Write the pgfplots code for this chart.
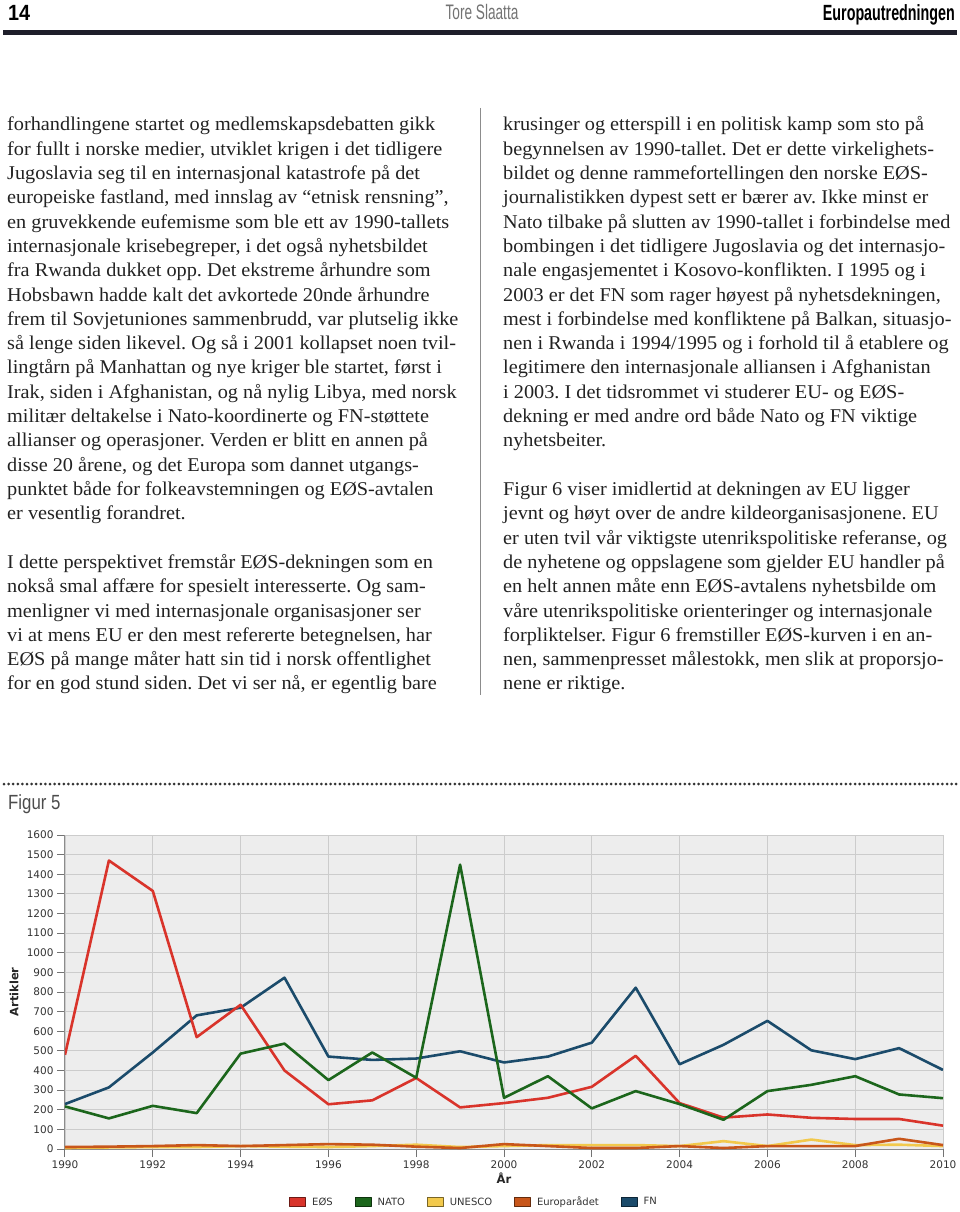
\documentclass[border=0pt]{standalone}
\usepackage{pgfplots}
\pgfplotsset{compat=1.18}
\usepackage{fontspec}
\setmainfont{Liberation Serif}[FakeStretch=1.04]
\newfontfamily\condsans{Liberation Sans}[FakeStretch=0.65]
\newfontfamily\numsans{Liberation Sans}[FakeStretch=0.9]
\newfontfamily\figfont{Liberation Sans}[FakeStretch=0.82]
\newfontfamily\chartfont{DejaVu Sans}
\definecolor{eoscol}{HTML}{D9342B}
\definecolor{natocol}{HTML}{1C661C}
\definecolor{unescocol}{HTML}{F2C94C}
\definecolor{eurocol}{HTML}{C8561A}
\definecolor{fncol}{HTML}{1B4B6B}
\definecolor{bodytext}{HTML}{222222}
\definecolor{rulecol}{HTML}{1E1E2A}
\begin{document}
\frenchspacing
\begin{tikzpicture}
\useasboundingbox (0,0) rectangle (960pt,-1212pt);
% header
\node[anchor=base west, inner sep=0] at (8pt,-21pt) {\numsans\bfseries\fontsize{22}{24}\selectfont 14};
\node[anchor=base, inner sep=0, text=black!55] at (482pt,-20pt) {\condsans\fontsize{21}{24}\selectfont Tore Slaatta};
\node[anchor=base east, inner sep=0] at (955pt,-21pt) {\condsans\bfseries\fontsize{22}{24}\selectfont Europautredningen};
\fill[rulecol] (3pt,-30pt) rectangle (957pt,-35pt);
% column rule
\draw[black!45, line width=1pt] (480pt,-108pt) -- (480pt,-695pt);
% left column
\node[anchor=base west, inner sep=0, text=bodytext] at (7pt,-131pt) {\parbox[t]{520pt}{\fontsize{19.5}{24.3}\selectfont\raggedright\frenchspacing
forhandlingene startet og medlemskapsdebatten gikk\\
for fullt i norske medier, utviklet krigen i det tidligere\\
Jugoslavia seg til en internasjonal katastrofe på det\\
europeiske fastland, med innslag av “etnisk rensning”,\\
en gruvekkende eufemisme som ble ett av 1990-tallets\\
internasjonale krisebegreper, i det også nyhetsbildet\\
fra Rwanda dukket opp. Det ekstreme århundre som\\
Hobsbawn hadde kalt det avkortede 20nde århundre\\
frem til Sovjetuniones sammenbrudd, var plutselig ikke\\
så lenge siden likevel. Og så i 2001 kollapset noen tvil-\\
lingtårn på Manhattan og nye kriger ble startet, først i\\
Irak, siden i Afghanistan, og nå nylig Libya, med norsk\\
militær deltakelse i Nato-koordinerte og FN-støttete\\
allianser og operasjoner. Verden er blitt en annen på\\
disse 20 årene, og det Europa som dannet utgangs-\\
punktet både for folkeavstemningen og EØS-avtalen\\
er vesentlig forandret.\\[24.3pt]
I dette perspektivet fremstår EØS-dekningen som en\\
nokså smal affære for spesielt interesserte. Og sam-\\
menligner vi med internasjonale organisasjoner ser\\
vi at mens EU er den mest refererte betegnelsen, har\\
EØS på mange måter hatt sin tid i norsk offentlighet\\
for en god stund siden. Det vi ser nå, er egentlig bare}};
% right column
\node[anchor=base west, inner sep=0, text=bodytext] at (503pt,-131pt) {\parbox[t]{520pt}{\fontsize{19.5}{24.3}\selectfont\raggedright\frenchspacing
krusinger og etterspill i en politisk kamp som sto på\\
begynnelsen av 1990-tallet. Det er dette virkelighets-\\
bildet og denne rammefortellingen den norske EØS-\\
journalistikken dypest sett er bærer av. Ikke minst er\\
Nato tilbake på slutten av 1990-tallet i forbindelse med\\
bombingen i det tidligere Jugoslavia og det internasjo-\\
nale engasjementet i Kosovo-konflikten. I 1995 og i\\
2003 er det FN som rager høyest på nyhetsdekningen,\\
mest i forbindelse med konfliktene på Balkan, situasjo-\\
nen i Rwanda i 1994/1995 og i forhold til å etablere og\\
legitimere den internasjonale alliansen i Afghanistan\\
i 2003. I det tidsrommet vi studerer EU- og EØS-\\
dekning er med andre ord både Nato og FN viktige\\
nyhetsbeiter.\\[24.3pt]
Figur 6 viser imidlertid at dekningen av EU ligger\\
jevnt og høyt over de andre kildeorganisasjonene. EU\\
er uten tvil vår viktigste utenrikspolitiske referanse, og\\
de nyhetene og oppslagene som gjelder EU handler på\\
en helt annen måte enn EØS-avtalens nyhetsbilde om\\
våre utenrikspolitiske orienteringer og internasjonale\\
forpliktelser. Figur 6 fremstiller EØS-kurven i en an-\\
nen, sammenpresset målestokk, men slik at proporsjo-\\
nene er riktige.}};
% dotted separator and figure caption
\draw[black!80, line width=3pt, line cap=round, dash pattern=on 0pt off 4.6pt] (4pt,-784pt) -- (957pt,-784pt);
\node[anchor=base west, inner sep=0, text=black!70] at (8pt,-809pt) {\figfont\fontsize{20.5}{22}\selectfont Figur 5};
% chart
\begin{axis}[
  at={(65pt,-1149pt)}, anchor=south west,
  scale only axis, width=878pt, height=314pt,
  xmin=1990, xmax=2010, ymin=0, ymax=1600,
  xtick={1990,1992,...,2010}, ytick={0,100,...,1600},
  axis background/.style={fill=black!7},
  grid=major, major grid style={draw=black!20, line width=0.8pt},
  axis x line*=bottom, axis y line*=left,
  axis line style={draw=black!45, line width=1pt},
  tick align=outside, major tick length=8pt,
  tick style={draw=black!55, line width=1pt},
  tick label style={font={\chartfont\fontsize{10.5}{12}\selectfont}, text=black!80},
  /pgf/number format/assume math mode=true,
  /pgf/number format/1000 sep={},
  xlabel={År}, ylabel={Artikler},
  label style={font={\chartfont\bfseries\fontsize{11.5}{13}\selectfont}, text=black!85},
  xlabel style={at={(axis description cs:0.5,0)}, anchor=center, yshift=-29pt},
  ylabel style={at={(axis description cs:0,0.5)}, anchor=center, yshift=51pt},
  legend columns=5,
  legend style={at={(axis description cs:0.466,-0.169)}, anchor=center, draw=none, fill=none,
    font={\chartfont\fontsize{10}{12}\selectfont}, text=black!80,
    /tikz/every odd column/.append style={column sep=4pt},
    /tikz/every even column/.append style={column sep=20pt}},
  legend cell align=left,
  every axis plot/.append style={line width=2.6pt, line join=round, no markers},
]
\addlegendimage{legend image code/.code={\draw[fill=eoscol, draw=eoscol!50!black, line width=0.8pt] (0pt,-4.5pt) rectangle (16pt,4.5pt);}}
\addlegendentry{EØS}
\addlegendimage{legend image code/.code={\draw[fill=natocol, draw=natocol!50!black, line width=0.8pt] (0pt,-4.5pt) rectangle (16pt,4.5pt);}}
\addlegendentry{NATO}
\addlegendimage{legend image code/.code={\draw[fill=unescocol, draw=unescocol!50!black, line width=0.8pt] (0pt,-4.5pt) rectangle (16pt,4.5pt);}}
\addlegendentry{UNESCO}
\addlegendimage{legend image code/.code={\draw[fill=eurocol, draw=eurocol!50!black, line width=0.8pt] (0pt,-4.5pt) rectangle (16pt,4.5pt);}}
\addlegendentry{Europarådet}
\addlegendimage{legend image code/.code={\draw[fill=fncol, draw=fncol!50!black, line width=0.8pt] (0pt,-4.5pt) rectangle (16pt,4.5pt);}}
\addlegendentry{FN}
% UNESCO
\addplot[unescocol, forget plot] coordinates {(1990,5)(1991,8)(1992,10)(1993,10)(1994,15)(1995,12)(1996,10)(1997,15)(1998,22)(1999,10)(2000,15)(2001,20)(2002,20)(2003,20)(2004,15)(2005,40)(2006,15)(2007,48)(2008,20)(2009,22)(2010,15)};
% Europaradet
\addplot[eurocol, forget plot] coordinates {(1990,10)(1991,12)(1992,15)(1993,20)(1994,15)(1995,20)(1996,25)(1997,22)(1998,12)(1999,5)(2000,25)(2001,15)(2002,5)(2003,5)(2004,15)(2005,5)(2006,15)(2007,15)(2008,15)(2009,52)(2010,20)};
% FN
\addplot[fncol, forget plot] coordinates {(1990,229)(1991,314)(1992,492)(1993,681)(1994,720)(1995,873)(1996,471)(1997,454)(1998,461)(1999,498)(2000,441)(2001,471)(2002,542)(2003,822)(2004,432)(2005,531)(2006,653)(2007,503)(2008,458)(2009,514)(2010,403)};
% EOS
\addplot[eoscol, forget plot] coordinates {(1990,480)(1991,1470)(1992,1315)(1993,570)(1994,735)(1995,400)(1996,228)(1997,248)(1998,362)(1999,212)(2000,234)(2001,261)(2002,317)(2003,475)(2004,234)(2005,160)(2006,176)(2007,159)(2008,153)(2009,153)(2010,119)};
% NATO
\addplot[natocol, forget plot] coordinates {(1990,217)(1991,156)(1992,220)(1993,183)(1994,486)(1995,537)(1996,351)(1997,492)(1998,363)(1999,1449)(2000,261)(2001,371)(2002,207)(2003,295)(2004,229)(2005,149)(2006,295)(2007,327)(2008,371)(2009,278)(2010,259)};
\end{axis}
\end{tikzpicture}
\end{document}
